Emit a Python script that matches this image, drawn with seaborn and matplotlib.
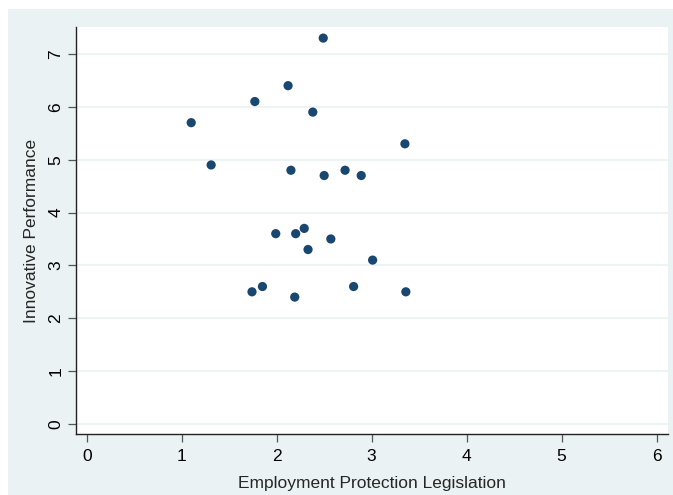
import matplotlib
matplotlib.use("Agg")
import matplotlib.pyplot as plt
import seaborn as sns
import pandas as pd
from matplotlib.patches import Rectangle

# employment protection legislation vs innovative performance
epl = [1.10, 1.31, 1.77, 2.12, 2.49, 2.38, 2.15, 2.50, 2.72, 2.89, 3.35,
       1.99, 2.20, 2.29, 2.33, 2.57, 3.01, 1.74, 1.85, 2.19, 2.81, 3.36]
innov = [5.7, 4.9, 6.1, 6.4, 7.3, 5.9, 4.8, 4.7, 4.8, 4.7, 5.3,
         3.6, 3.6, 3.7, 3.3, 3.5, 3.1, 2.5, 2.6, 2.4, 2.6, 2.5]
x_ticks = [0, 1, 2, 3, 4, 5, 6]
y_ticks = [0, 1, 2, 3, 4, 5, 6, 7]

df = pd.DataFrame({"epl": epl, "innov": innov})

sns.set_theme(style="white")
plt.rcParams["font.family"] = ["Liberation Sans", "DejaVu Sans"]

bg = "#eaf2f3"
fig = plt.figure(figsize=(6.73, 4.95), dpi=100)
fig.patches.append(Rectangle((8 / 673, 0), 1, 1 - 9 / 495, transform=fig.transFigure,
                             facecolor=bg, edgecolor="none", zorder=-5))
ax = fig.add_axes([76 / 673, 61 / 495, 592 / 673, 407 / 495])
ax.set_zorder(2)
ax.set_facecolor("white")

sns.scatterplot(data=df, x="epl", y="innov", ax=ax, color="#1a476f",
                s=44, edgecolor="none", zorder=3)

ax.set_xlim(-0.113, 6.12)
ax.set_ylim(-0.19, 7.51)
ax.set_xticks(x_ticks)
ax.set_yticks(y_ticks)
ax.grid(axis="y", color=bg, linewidth=1.2, zorder=0)
ax.tick_params(axis="both", direction="out", length=6, width=0.9, color="#555555",
               labelsize=12.5, labelcolor="black", pad=4.5, left=True, bottom=True)
ax.tick_params(axis="y", pad=3)
for lab in ax.get_yticklabels():
    lab.set_rotation(90)
    lab.set_va("center")

for side in ["top", "right"]:
    ax.spines[side].set_visible(False)
for side in ["left", "bottom"]:
    ax.spines[side].set_color("#222222")
    ax.spines[side].set_linewidth(1.0)

ax.set_xlabel("Employment Protection Legislation", fontsize=12.5, labelpad=9)
ax.set_ylabel("Innovative Performance", fontsize=12.5, labelpad=7)

fig.savefig("out.png", dpi=100)
